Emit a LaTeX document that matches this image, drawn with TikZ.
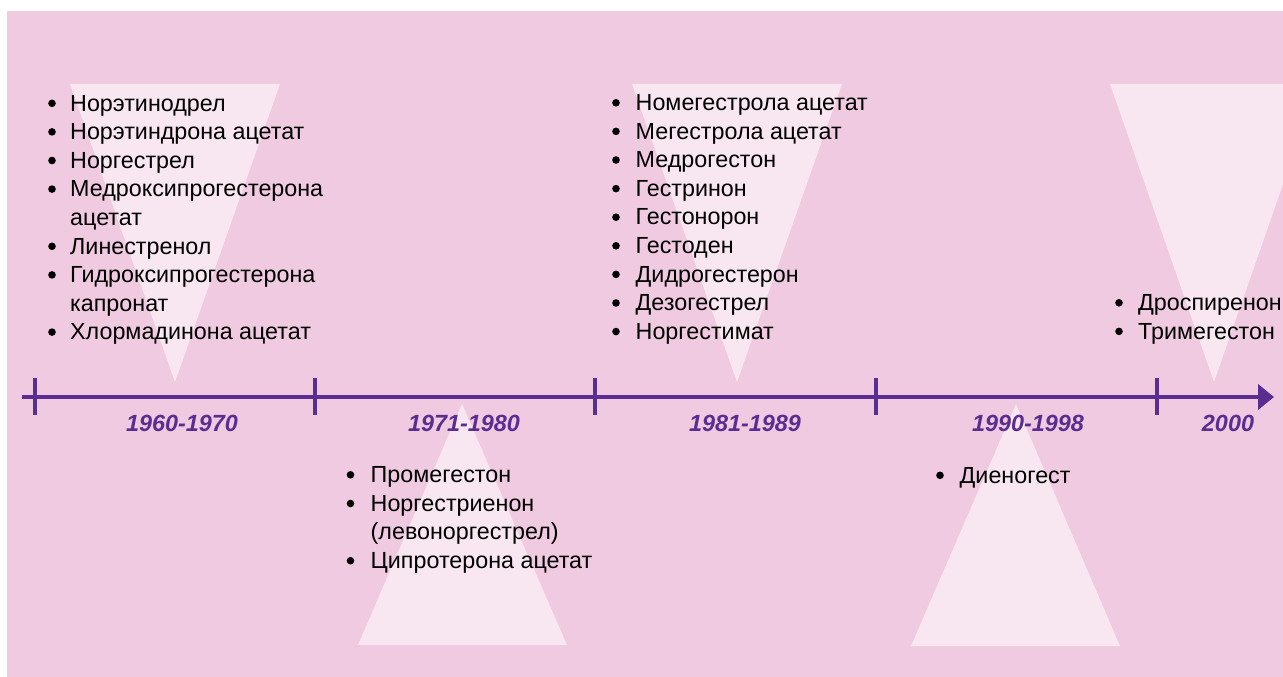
\documentclass[tikz,border=0pt]{standalone}
\usepackage{fontspec}
\setmainfont{Liberation Sans}
\usetikzlibrary{arrows.meta}
\definecolor{bgpink}{RGB}{240,202,224}
\definecolor{tripink}{RGB}{248,231,241}
\definecolor{axpurple}{RGB}{91,45,144}
\begin{document}
\begin{tikzpicture}[x=1pt,y=-1pt,
  itemtext/.style={anchor=base west, inner sep=0pt, font=\fontsize{23.3}{28}\selectfont},
  bul/.style={circle, fill=black, inner sep=0pt, minimum size=7.6pt},
  yearlbl/.style={anchor=base, inner sep=0pt, text=axpurple, font=\fontsize{23.4}{28}\selectfont\bfseries\itshape},
  tick/.style={draw=axpurple, line width=4pt},
  tri/.style={fill=tripink}]
\useasboundingbox (0,0) rectangle (1283,677);
\fill[white] (0,0) rectangle (1283,677);
\fill[bgpink] (7,11) rectangle (1283,677);
\begin{scope}
\clip (7,11) rectangle (1283,677);
\fill[tri] (70,84) -- (280,84) -- (175,382) -- cycle;
\fill[tri] (632,84) -- (842,84) -- (737,382) -- cycle;
\fill[tri] (1110,84) -- (1318,84) -- (1214,382) -- cycle;
\fill[tri] (462,404) -- (567,645) -- (358,645) -- cycle;
\fill[tri] (1016,404) -- (1120,646) -- (911,646) -- cycle;
\end{scope}
% axis
\coordinate (ax0) at (22,397);
\coordinate (ax1) at (1274,397);
\draw[axpurple, line width=4pt, -{Triangle[length=16pt,width=25pt]}] (ax0) -- (ax1);
\foreach \i/\x in {1/35,2/315,3/595,4/876,5/1157}{
  \coordinate (t\i a) at (\x,378);
  \coordinate (t\i b) at (\x,415);
  \draw[tick] (t\i a) -- (t\i b);
}
% year labels
\node[yearlbl] (y1) at (182,431) {1960-1970};
\node[yearlbl] (y2) at (464,431) {1971-1980};
\node[yearlbl] (y3) at (745,431) {1981-1989};
\node[yearlbl] (y4) at (1028,431) {1990-1998};
\node[yearlbl] (y5) at (1228,431) {2000};
% column A
\node[bul] (a1b) at (52,111-7.7) {};
\node[itemtext] (a1) at (70,111) {Норэтинодрел};
\node[bul] (a2b) at (52,139.6-7.7) {};
\node[itemtext] (a2) at (70,139.6) {Норэтиндрона ацетат};
\node[bul] (a3b) at (52,168.2-7.7) {};
\node[itemtext] (a3) at (70,168.2) {Норгестрел};
\node[bul] (a4b) at (52,196.8-7.7) {};
\node[itemtext] (a4) at (70,196.8) {Медроксипрогестерона};
\node[itemtext] (a4c) at (70,225.4) {ацетат};
\node[bul] (a5b) at (52,254-7.7) {};
\node[itemtext] (a5) at (70,254) {Линестренол};
\node[bul] (a6b) at (52,282.6-7.7) {};
\node[itemtext] (a6) at (70,282.6) {Гидроксипрогестерона};
\node[itemtext] (a6c) at (70,311.2) {капронат};
\node[bul] (a7b) at (52,339.8-7.7) {};
\node[itemtext] (a7) at (70,339.8) {Хлормадинона ацетат};
% column B
\foreach \k/\t in {0/Номегестрола ацетат,1/Мегестрола ацетат,2/Медрогестон,3/Гестринон,4/Гестонорон,5/Гестоден,6/Дидрогестерон,7/Дезогестрел,8/Норгестимат}{
  \node[bul] (b\k b) at (616,110.5+28.6*\k-7.7) {};
  \node[itemtext] (b\k) at (635.5,110.5+28.6*\k) {\t};
}
% column C
\node[bul] (c1b) at (350.5,482.5-7.7) {};
\node[itemtext] (c1) at (370.5,482.5) {Промегестон};
\node[bul] (c2b) at (350.5,511.2-7.7) {};
\node[itemtext] (c2) at (370.5,511.2) {Норгестриенон};
\node[itemtext] (c2c) at (370.5,539.8) {(левоноргестрел)};
\node[bul] (c3b) at (350.5,568.4-7.7) {};
\node[itemtext] (c3) at (370.5,568.4) {Ципротерона ацетат};
% column D
\node[bul] (d1b) at (940,483-7.7) {};
\node[itemtext] (d1) at (959.5,483) {Диеногест};
% column E
\node[bul] (e1b) at (1119,310.5-7.7) {};
\node[itemtext] (e1) at (1138,310.5) {Дроспиренон};
\node[bul] (e2b) at (1119,339.1-7.7) {};
\node[itemtext] (e2) at (1138,339.1) {Тримегестон};
\end{tikzpicture}
\end{document}
